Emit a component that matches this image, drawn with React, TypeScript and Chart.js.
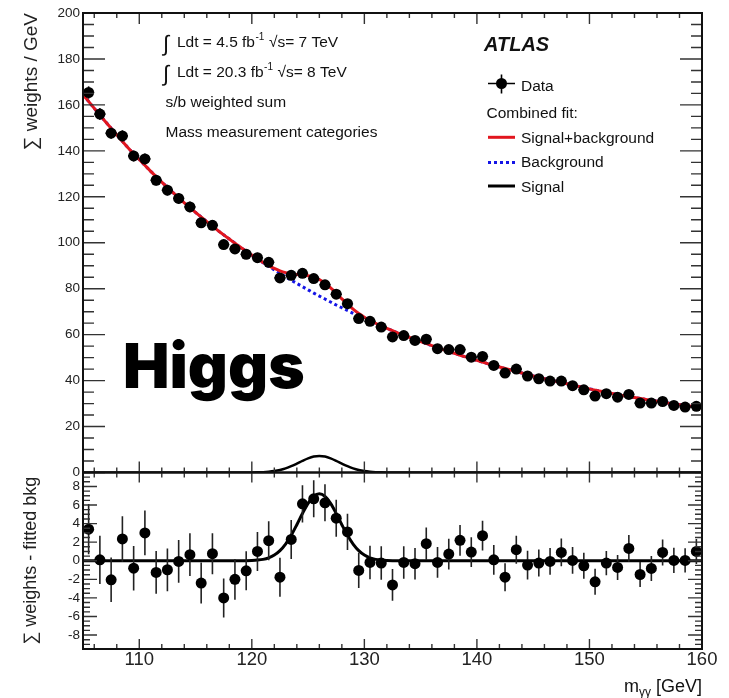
import React, { useEffect, useRef } from "react";
import { Chart, registerables } from "chart.js";

Chart.register(...registerables);

// ---------------- data ----------------
const MASS = [
  105.5, 106.5, 107.5, 108.5, 109.5, 110.5, 111.5, 112.5, 113.5, 114.5,
  115.5, 116.5, 117.5, 118.5, 119.5, 120.5, 121.5, 122.5, 123.5, 124.5,
  125.5, 126.5, 127.5, 128.5, 129.5, 130.5, 131.5, 132.5, 133.5, 134.5,
  135.5, 136.5, 137.5, 138.5, 139.5, 140.5, 141.5, 142.5, 143.5, 144.5,
  145.5, 146.5, 147.5, 148.5, 149.5, 150.5, 151.5, 152.5, 153.5, 154.5,
  155.5, 156.5, 157.5, 158.5, 159.5,
];

const WEIGHTED_EVENTS = [
  165.4, 156.0, 147.7, 146.5, 137.8, 136.5, 127.2, 122.9, 119.3, 115.6,
  108.7, 107.6, 99.2, 97.3, 95.0, 93.5, 91.5, 84.7, 85.8, 86.7,
  84.4, 81.7, 77.6, 73.5, 67.0, 65.8, 63.3, 59.0, 59.6, 57.5,
  58.0, 53.9, 53.5, 53.5, 50.2, 50.5, 46.6, 43.3, 45.0, 42.0,
  40.8, 39.8, 39.8, 37.8, 36.0, 33.3, 34.3, 32.8, 34.0, 30.2,
  30.2, 30.9, 29.2, 28.5, 28.8,
];

const RESIDUALS = [
  3.4, 0.1, -2.05, 2.35, -0.8, 3.0, -1.26, -0.97, -0.07, 0.65,
  -2.4, 0.76, -4.0, -2.0, -1.08, 1.0, 2.16, -1.77, 2.3, 6.13,
  6.67, 6.24, 4.58, 3.1, -1.04, -0.18, -0.25, -2.6, -0.18, -0.32,
  1.84, -0.18, 0.72, 2.2, 0.93, 2.7, 0.1, -1.77, 1.19, -0.47,
  -0.25, -0.07, 0.9, 0.04, -0.54, -2.27, -0.25, -0.72, 1.33, -1.48,
  -0.83, 0.9, 0.04, 0.04, 1.0,
];

const ERRORS = [
  2.7, 2.6, 2.4, 2.45, 2.4, 2.4, 2.3, 2.3, 2.3, 2.3,
  2.2, 2.2, 2.1, 2.2, 2.1, 2.1, 2.1, 2.1, 2.1, 2.0,
  2.0, 2.0, 2.0, 1.95, 1.9, 1.8, 1.8, 1.7, 1.75, 1.7,
  1.75, 1.65, 1.65, 1.65, 1.6, 1.6, 1.6, 1.5, 1.5, 1.55,
  1.45, 1.45, 1.5, 1.45, 1.4, 1.4, 1.3, 1.35, 1.45, 1.35,
  1.35, 1.4, 1.35, 1.3, 1.35,
];

const FIT_MASS = [
  105, 106, 107, 108, 109, 110, 111, 112, 113, 114, 115, 116, 117, 118,
  118.5, 119, 119.5, 120, 120.5, 121, 121.5, 122, 122.5, 123, 123.5, 124,
  124.5, 125, 125.5, 126, 126.5, 127, 127.5, 128, 128.5, 129, 129.5, 130,
  130.5, 131, 131.5, 132, 132.5, 133, 133.5, 134,
  135, 136, 137, 138, 139, 140, 141, 142, 143, 144, 145, 146, 147, 148,
  149, 150, 151, 152, 153, 154, 155, 156, 157, 158, 159, 160,
];

const FIT_BACKGROUND = [
  164.5, 158.5, 152.7, 147.0, 141.4, 136.2, 131.2, 126.4, 121.8, 117.4, 113.2, 109.2, 105.3, 101.6,
  99.8, 98.0, 96.3, 94.6, 92.9, 91.3, 89.7, 88.2, 86.7, 85.2, 83.7, 82.3,
  80.9, 79.5, 78.1, 76.8, 75.5, 74.2, 72.9, 71.7, 70.5, 69.3, 68.1, 67.0,
  65.9, 64.8, 63.7, 62.7, 61.7, 60.7, 59.7, 58.8,
  57.0, 55.2, 53.5, 51.9, 50.3, 48.8, 47.3, 45.9, 44.6, 43.3, 42.0, 40.8, 39.7, 38.6,
  37.5, 36.4, 35.4, 34.4, 33.5, 32.6, 31.8, 31.0, 30.2, 29.5, 28.8, 28.1,
];

const FIT_SIGNAL = [
  0, 0, 0, 0, 0, 0, 0, 0, 0, 0, 0, 0, 0, 0,
  0, 0, 0.01, 0.03, 0.07, 0.15, 0.32, 0.61, 1.09, 1.8, 2.74, 3.88,
  5.09, 6.17, 6.93, 7.2, 6.93, 6.17, 5.09, 3.88, 2.74, 1.8, 1.09, 0.61,
  0.32, 0.15, 0.07, 0.03, 0.01, 0, 0, 0,
  0, 0, 0, 0, 0, 0, 0, 0, 0, 0, 0, 0, 0, 0,
  0, 0, 0, 0, 0, 0, 0, 0, 0, 0, 0, 0,
];

const X_TICKS = [110, 120, 130, 140, 150, 160];
const Y_TOP_TICKS = [0, 20, 40, 60, 80, 100, 120, 140, 160, 180, 200];
const Y_BOTTOM_TICKS = [-8, -6, -4, -2, 0, 2, 4, 6, 8];

const LUMI_LINES = [
  { lumi: "Ldt = 4.5 fb", sup: "-1", energy: "√s= 7 TeV" },
  { lumi: "Ldt = 20.3 fb", sup: "-1", energy: "√s= 8 TeV" },
];
const INFO_LINES = ["s/b weighted sum", "Mass measurement categories"];
const EXPERIMENT = "ATLAS";
const LEGEND_DATA = "Data";
const LEGEND_HEADER = "Combined fit:";
const LEGEND_SB = "Signal+background";
const LEGEND_B = "Background";
const LEGEND_S = "Signal";
const STAMP = "Higgs";
const Y_TOP_TITLE = "∑ weights / GeV";
const Y_BOTTOM_TITLE = "∑ weights - fitted bkg";

// ---------------- styles ----------------
const SANS = "'Liberation Sans', Arial, Helvetica, sans-serif";
const RED = "rgb(226, 22, 30)";
const BLUE = "rgb(20, 20, 230)";
const INK = "#111";

const errorBarPlugin = {
  id: "errorBars",
  beforeDatasetDraw(chart: any, args: any) {
    const ds: any = chart.data.datasets[args.index];
    if (!ds.errors) return;
    const { ctx } = chart;
    const xs = chart.scales.x;
    const ys = chart.scales[ds.yAxisID];
    ctx.save();
    ctx.beginPath();
    ctx.rect(xs.left, ys.top, xs.right - xs.left, ys.bottom - ys.top);
    ctx.clip();
    ctx.strokeStyle = "#222";
    ctx.lineWidth = 1.6;
    ds.data.forEach((p: any, i: number) => {
      const e = ds.errors[i];
      const px = xs.getPixelForValue(p.x);
      ctx.beginPath();
      ctx.moveTo(px, ys.getPixelForValue(p.y + e));
      ctx.lineTo(px, ys.getPixelForValue(p.y - e));
      if (ds.xErr) {
        const py = ys.getPixelForValue(p.y);
        ctx.moveTo(xs.getPixelForValue(p.x - ds.xErr), py);
        ctx.lineTo(xs.getPixelForValue(p.x + ds.xErr), py);
      }
      ctx.stroke();
    });
    ctx.restore();
  },
};

const framePlugin = {
  id: "frameTicks",
  afterDatasetsDraw(chart: any) {
    const { ctx } = chart;
    const xs = chart.scales.x;
    const panels = [
      { s: chart.scales.yTop, minor: 5, major: 20, yMaj: 22, yMin: 11, xMaj: 11, xMin: 5 },
      { s: chart.scales.yBot, minor: 0.5, major: 2, yMaj: 14, yMin: 7, xMaj: 10, xMin: 5 },
    ];
    ctx.save();
    for (const p of panels) {
      const s = p.s;
      const L = xs.left, R = xs.right, T = s.top, B = s.bottom;
      ctx.strokeStyle = "#333";
      ctx.lineWidth = 1.4;
      ctx.beginPath();
      for (let v = s.min; v <= s.max + 1e-9; v += p.minor) {
        const y = s.getPixelForValue(v);
        const r = v / p.major;
        const isMaj = Math.abs(r - Math.round(r)) < 1e-6;
        const len = isMaj ? p.yMaj : p.yMin;
        ctx.moveTo(L, y);
        ctx.lineTo(L + len, y);
        ctx.moveTo(R, y);
        ctx.lineTo(R - len, y);
      }
      for (let v = 106; v <= 160; v += 2) {
        const x = xs.getPixelForValue(v);
        const isMaj = v % 10 === 0;
        const len = isMaj ? p.xMaj : p.xMin;
        ctx.moveTo(x, B);
        ctx.lineTo(x, B - len);
        ctx.moveTo(x, T);
        ctx.lineTo(x, T + len);
      }
      ctx.stroke();
      ctx.strokeStyle = INK;
      ctx.lineWidth = 2;
      ctx.strokeRect(L, T, R - L, B - T);
    }
    ctx.restore();
  },
};

const textPlugin = {
  id: "texts",
  afterDraw(chart: any) {
    const { ctx } = chart;
    ctx.save();
    ctx.fillStyle = INK;
    ctx.textBaseline = "alphabetic";
    ctx.textAlign = "left";

    const lumiBase = [46.7, 76.7];
    LUMI_LINES.forEach((l, i) => {
      const by = lumiBase[i];
      ctx.font = `22px ${SANS}`;
      ctx.fillText("∫", 163, by + 4);
      ctx.font = `15.5px ${SANS}`;
      let x = 177;
      ctx.fillText(l.lumi, x, by);
      x += ctx.measureText(l.lumi).width;
      ctx.font = `10px ${SANS}`;
      ctx.fillText(l.sup, x + 0.5, by - 6.5);
      x += ctx.measureText(l.sup).width + 5;
      ctx.font = `15.5px ${SANS}`;
      ctx.fillText(l.energy, x, by);
    });
    ctx.font = `15.5px ${SANS}`;
    ctx.fillText(INFO_LINES[0], 165.5, 107.3);
    ctx.fillText(INFO_LINES[1], 165.5, 137.3);

    ctx.font = `italic bold 20px ${SANS}`;
    ctx.fillText(EXPERIMENT, 484, 50.7);

    ctx.font = `15.5px ${SANS}`;
    ctx.strokeStyle = "#000";
    ctx.lineWidth = 1.6;
    ctx.beginPath();
    ctx.moveTo(488, 83.5);
    ctx.lineTo(515, 83.5);
    ctx.moveTo(501.5, 74.5);
    ctx.lineTo(501.5, 93.5);
    ctx.stroke();
    ctx.beginPath();
    ctx.arc(501.5, 83.5, 5.5, 0, Math.PI * 2);
    ctx.fillStyle = "#000";
    ctx.fill();
    ctx.fillStyle = INK;
    ctx.fillText(LEGEND_DATA, 521, 90.7);
    ctx.fillText(LEGEND_HEADER, 486.5, 117.7);

    ctx.lineWidth = 3;
    ctx.strokeStyle = RED;
    ctx.beginPath();
    ctx.moveTo(488, 137.3);
    ctx.lineTo(515, 137.3);
    ctx.stroke();
    ctx.fillText(LEGEND_SB, 521, 142.7);

    ctx.strokeStyle = BLUE;
    ctx.setLineDash([3, 3]);
    ctx.beginPath();
    ctx.moveTo(488, 162.5);
    ctx.lineTo(516, 162.5);
    ctx.stroke();
    ctx.setLineDash([]);
    ctx.fillText(LEGEND_B, 521, 167.3);

    ctx.strokeStyle = "#000";
    ctx.beginPath();
    ctx.moveTo(488, 186);
    ctx.lineTo(515, 186);
    ctx.stroke();
    ctx.fillText(LEGEND_S, 521, 191.5);

    ctx.font = `900 62px Inter, Roboto, sans-serif`;
    ctx.fillStyle = "#000";
    ctx.fillText(STAMP, 123, 387.5);

    ctx.fillStyle = INK;
    ctx.textAlign = "left";
    const right = chart.scales.x.right;
    ctx.font = `18px ${SANS}`;
    const wUnit = ctx.measureText(" [GeV]").width;
    const wM = ctx.measureText("m").width;
    ctx.font = `12px ${SANS}`;
    const wSub = ctx.measureText("γγ").width;
    const x0 = right - wUnit - wSub - wM;
    ctx.font = `18px ${SANS}`;
    ctx.fillText("m", x0, 692);
    ctx.font = `12px ${SANS}`;
    ctx.fillText("γγ", x0 + wM, 696);
    ctx.font = `18px ${SANS}`;
    ctx.fillText(" [GeV]", x0 + wM + wSub, 692);

    ctx.restore();
  },
};

export default function App() {
  const canvasRef = useRef<HTMLCanvasElement | null>(null);

  useEffect(() => {
    const canvas = canvasRef.current;
    if (!canvas) return;

    const topData = MASS.map((m, i) => ({ x: m, y: WEIGHTED_EVENTS[i] }));
    const botData = MASS.map((m, i) => ({ x: m, y: RESIDUALS[i] }));
    const sbCurve = FIT_MASS.map((m, i) => ({ x: m, y: FIT_BACKGROUND[i] + FIT_SIGNAL[i] }));
    const bCurve = FIT_MASS.map((m, i) => ({ x: m, y: FIT_BACKGROUND[i] }));
    const sCurve = FIT_MASS.map((m, i) => ({ x: m, y: FIT_SIGNAL[i] }));

    const lineBase = {
      showLine: true,
      pointRadius: 0,
      fill: false,
      cubicInterpolationMode: "monotone" as const,
    };

    const chart = new Chart(canvas, {
      type: "scatter",
      data: {
        datasets: [
          {
            label: "Data",
            data: topData,
            yAxisID: "yTop",
            pointRadius: 5.5,
            pointBackgroundColor: "#000",
            pointBorderWidth: 0,
            order: 0,
            errors: ERRORS,
            xErr: 0.5,
          } as any,
          {
            ...lineBase,
            label: "Signal+background",
            data: sbCurve,
            yAxisID: "yTop",
            borderColor: RED,
            borderWidth: 3,
            order: 1,
          },
          {
            ...lineBase,
            label: "Background",
            data: bCurve,
            yAxisID: "yTop",
            borderColor: BLUE,
            borderWidth: 3,
            borderDash: [3, 3],
            order: 2,
          },
          {
            ...lineBase,
            label: "Signal",
            data: sCurve,
            yAxisID: "yTop",
            borderColor: "#000",
            borderWidth: 2.5,
            order: 3,
          },
          {
            label: "Data - fitted bkg",
            data: botData,
            yAxisID: "yBot",
            pointRadius: 5.5,
            pointBackgroundColor: "#000",
            pointBorderWidth: 0,
            order: 0,
            errors: ERRORS,
          } as any,
          {
            ...lineBase,
            label: "Signal (residual)",
            data: sCurve,
            yAxisID: "yBot",
            borderColor: "#000",
            borderWidth: 3,
            order: 1,
          },
        ],
      },
      options: {
        animation: false,
        responsive: false,
        events: [],
        layout: { padding: { top: 13, right: 27, left: 0, bottom: 0 } },
        plugins: { legend: { display: false }, tooltip: { enabled: false } },
        scales: {
          x: {
            type: "linear",
            position: "bottom",
            min: 105,
            max: 160,
            afterBuildTicks: (s: any) => {
              s.ticks = X_TICKS.map((v) => ({ value: v }));
            },
            afterFit: (s: any) => {
              s.height = 49;
            },
            grid: { display: false, drawTicks: false },
            border: { display: false },
            ticks: {
              padding: 0,
              color: "#222",
              font: { family: SANS, size: 18.5 },
              maxRotation: 0,
              autoSkip: false,
            },
          },
          yBot: {
            type: "linear",
            position: "left",
            stack: "panels",
            stackWeight: 176.5,
            weight: 0,
            min: -9.5,
            max: 9.5,
            afterBuildTicks: (s: any) => {
              s.ticks = Y_BOTTOM_TICKS.map((v) => ({ value: v }));
            },
            afterFit: (s: any) => {
              s.width = 83;
            },
            grid: { display: false, drawTicks: false },
            border: { display: false },
            ticks: {
              padding: 3,
              color: "#222",
              autoSkip: false,
              font: { family: SANS, size: 13.5 },
            },
            title: {
              display: true,
              text: Y_BOTTOM_TITLE,
              align: "center",
              color: "#222",
              font: { family: SANS, size: 18 },
              padding: { top: 20, bottom: 0 },
            },
          },
          yTop: {
            type: "linear",
            position: "left",
            stack: "panels",
            stackWeight: 459.5,
            weight: 1,
            min: 0,
            max: 200,
            afterBuildTicks: (s: any) => {
              s.ticks = Y_TOP_TICKS.map((v) => ({ value: v }));
            },
            afterFit: (s: any) => {
              s.width = 83;
            },
            grid: { display: false, drawTicks: false },
            border: { display: false },
            ticks: {
              padding: 3,
              color: "#222",
              autoSkip: false,
              font: { family: SANS, size: 13.5 },
            },
            title: {
              display: true,
              text: Y_TOP_TITLE,
              align: "end",
              color: "#222",
              font: { family: SANS, size: 19 },
              padding: { top: 20, bottom: 0 },
            },
          },
        },
      } as any,
      plugins: [errorBarPlugin, framePlugin, textPlugin],
    });

    return () => {
      chart.destroy();
    };
  }, []);

  return (
    <div
      style={{
        position: "fixed",
        left: 0,
        top: 0,
        width: 729,
        height: 698,
        background: "#fff",
      }}
    >
      <canvas ref={canvasRef} width={729} height={698} style={{ width: 729, height: 698, display: "block" }} />
    </div>
  );
}
